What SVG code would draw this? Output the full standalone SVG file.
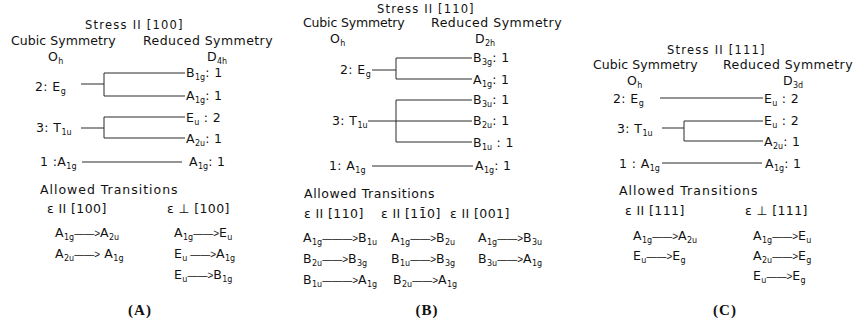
<svg xmlns="http://www.w3.org/2000/svg" width="854" height="329" viewBox="0 0 854 329">
<style>
text{font-family:"DejaVu Sans","Liberation Sans",sans-serif;font-size:12.5px;fill:#111;letter-spacing:0.4px}
.h{font-size:11.5px}
.s{font-size:8px;letter-spacing:0}
.ar{font-family:"Liberation Sans",sans-serif;font-size:10px;letter-spacing:0}
.cap{font-family:"Liberation Serif",serif;font-weight:bold;font-size:15px;letter-spacing:1px;text-anchor:middle}
.ln{stroke:#2a2a2a;stroke-width:1;fill:none}
</style>
<rect width="854" height="329" fill="#fff"/>

<!-- Panel A -->
<g id="panelA">
<text class="h" x="85" y="29" textLength="98">Stress II [100]</text>
<text x="11" y="45" textLength="105">Cubic Symmetry</text>
<text x="143" y="45" textLength="130">Reduced Symmetry</text>
<g id="a-oh"><text x="48" y="61">O<tspan class="s" dy="3">h</tspan></text></g>
<g id="a-d4h"><text x="207" y="61">D<tspan class="s" dy="3">4h</tspan></text></g>
<g id="a-eg"><text x="35" y="91">2: E<tspan class="s" dy="3">g</tspan></text></g>
<g id="a-t1u"><text x="36" y="132">3: T<tspan class="s" dy="3">1u</tspan></text></g>
<g id="a-a1g"><text x="40" y="166">1 :A<tspan class="s" dy="3">1g</tspan></text></g>
<g id="a-b1g"><text x="186" y="77">B<tspan class="s" dy="3">1g</tspan><tspan dy="-3">: 1</tspan></text></g>
<g id="a-a1g2"><text x="186" y="100">A<tspan class="s" dy="3">1g</tspan><tspan dy="-3">: 1</tspan></text></g>
<g id="a-eu"><text x="186" y="122">E<tspan class="s" dy="3">u</tspan><tspan dy="-3"> : 2</tspan></text></g>
<g id="a-a2u"><text x="186" y="143">A<tspan class="s" dy="3">2u</tspan><tspan dy="-3">: 1</tspan></text></g>
<g id="a-a1g3"><text x="189" y="166">A<tspan class="s" dy="3">1g</tspan><tspan dy="-3">: 1</tspan></text></g>
<text x="40" y="194" textLength="138">Allowed Transitions</text>
<text x="47" y="213">ε II [100]</text>
<text x="167" y="213">ε ⊥ [100]</text>
<text x="55" y="237">A<tspan class="s" dy="3">1g</tspan><tspan class="ar" dy="-3">——&gt;</tspan>A<tspan class="s" dy="3">2u</tspan></text>
<text x="55" y="258">A<tspan class="s" dy="3">2u</tspan><tspan class="ar" dy="-3">——&gt;</tspan> A<tspan class="s" dy="3">1g</tspan></text>
<text x="174" y="237">A<tspan class="s" dy="3">1g</tspan><tspan class="ar" dy="-3">——&gt;</tspan>E<tspan class="s" dy="3">u</tspan></text>
<text x="174" y="258">E<tspan class="s" dy="3">u</tspan><tspan class="ar" dy="-3"> ——&gt;</tspan>A<tspan class="s" dy="3">1g</tspan></text>
<text x="174" y="279">E<tspan class="s" dy="3">u</tspan><tspan class="ar" dy="-3">——&gt;</tspan>B<tspan class="s" dy="3">1g</tspan></text>
<text class="cap" x="140" y="315">(A)</text>
</g>

<!-- Panel B -->
<g id="panelB">
<text class="h" x="377" y="13" textLength="97">Stress II [110]</text>
<text x="303" y="27" textLength="102">Cubic Symmetry</text>
<text x="431" y="27" textLength="131">Reduced Symmetry</text>
<g id="b-oh"><text x="330" y="43">O<tspan class="s" dy="3">h</tspan></text></g>
<g id="b-d2h"><text x="475" y="43">D<tspan class="s" dy="3">2h</tspan></text></g>
<g id="b-eg"><text x="340" y="74">2: E<tspan class="s" dy="3">g</tspan></text></g>
<g id="b-t1u"><text x="332" y="125">3: T<tspan class="s" dy="3">1u</tspan></text></g>
<g id="b-a1g"><text x="329" y="170">1: A<tspan class="s" dy="3">1g</tspan></text></g>
<g id="b-b3g"><text x="473" y="62">B<tspan class="s" dy="3">3g</tspan><tspan dy="-3">: 1</tspan></text></g>
<g id="b-a1g2"><text x="473" y="84">A<tspan class="s" dy="3">1g</tspan><tspan dy="-3">: 1</tspan></text></g>
<g id="b-b3u"><text x="473" y="104">B<tspan class="s" dy="3">3u</tspan><tspan dy="-3">: 1</tspan></text></g>
<g id="b-b2u"><text x="473" y="125">B<tspan class="s" dy="3">2u</tspan><tspan dy="-3">: 1</tspan></text></g>
<g id="b-b1u"><text x="473" y="147">B<tspan class="s" dy="3">1u</tspan><tspan dy="-3"> : 1</tspan></text></g>
<g id="b-a1g3"><text x="475" y="170">A<tspan class="s" dy="3">1g</tspan><tspan dy="-3">: 1</tspan></text></g>
<text x="304" y="198" textLength="131">Allowed Transitions</text>
<text x="304" y="218">ε II [110]</text>
<text x="381" y="218">ε II [11̄0]</text>
<text x="450" y="218">ε II [001]</text>
<text x="303" y="242">A<tspan class="s" dy="3">1g</tspan><tspan class="ar" dy="-3">———&gt;</tspan>B<tspan class="s" dy="3">1u</tspan></text>
<text x="303" y="263">B<tspan class="s" dy="3">2u</tspan><tspan class="ar" dy="-3">——&gt;</tspan>B<tspan class="s" dy="3">3g</tspan></text>
<text x="303" y="284">B<tspan class="s" dy="3">1u</tspan><tspan class="ar" dy="-3">———&gt;</tspan>A<tspan class="s" dy="3">1g</tspan></text>
<text x="391" y="242">A<tspan class="s" dy="3">1g</tspan><tspan class="ar" dy="-3">——&gt;</tspan>B<tspan class="s" dy="3">2u</tspan></text>
<text x="391" y="263">B<tspan class="s" dy="3">1u</tspan><tspan class="ar" dy="-3">——&gt;</tspan>B<tspan class="s" dy="3">3g</tspan></text>
<text x="393" y="284">B<tspan class="s" dy="3">2u</tspan><tspan class="ar" dy="-3">——&gt;</tspan>A<tspan class="s" dy="3">1g</tspan></text>
<text x="478" y="242">A<tspan class="s" dy="3">1g</tspan><tspan class="ar" dy="-3">——&gt;</tspan>B<tspan class="s" dy="3">3u</tspan></text>
<text x="478" y="263">B<tspan class="s" dy="3">3u</tspan><tspan class="ar" dy="-3">——&gt;</tspan>A<tspan class="s" dy="3">1g</tspan></text>
<text class="cap" x="427" y="315">(B)</text>
</g>

<!-- Panel C -->
<g id="panelC">
<text class="h" x="667" y="54" textLength="98">Stress II [111]</text>
<text x="593" y="69" textLength="105">Cubic Symmetry</text>
<text x="723" y="69" textLength="130">Reduced Symmetry</text>
<g id="c-oh"><text x="627" y="85">O<tspan class="s" dy="3">h</tspan></text></g>
<g id="c-d3d"><text x="783" y="85">D<tspan class="s" dy="3">3d</tspan></text></g>
<g id="c-eg"><text x="613" y="103">2: E<tspan class="s" dy="3">g</tspan></text></g>
<g id="c-t1u"><text x="617" y="133">3: T<tspan class="s" dy="3">1u</tspan></text></g>
<g id="c-a1g"><text x="619" y="168">1 : A<tspan class="s" dy="3">1g</tspan></text></g>
<g id="c-eu1"><text x="764" y="103">E<tspan class="s" dy="3">u</tspan><tspan dy="-3"> : 2</tspan></text></g>
<g id="c-eu2"><text x="764" y="125">E<tspan class="s" dy="3">u</tspan><tspan dy="-3"> : 2</tspan></text></g>
<g id="c-a2u"><text x="764" y="146">A<tspan class="s" dy="3">2u</tspan><tspan dy="-3">: 1</tspan></text></g>
<g id="c-a1g2"><text x="765" y="168">A<tspan class="s" dy="3">1g</tspan><tspan dy="-3">: 1</tspan></text></g>
<text x="619" y="195" textLength="139">Allowed Transitions</text>
<text x="625" y="215">ε II [111]</text>
<text x="745" y="215">ε ⊥ [111]</text>
<text x="633" y="240">A<tspan class="s" dy="3">1g</tspan><tspan class="ar" dy="-3">——&gt;</tspan>A<tspan class="s" dy="3">2u</tspan></text>
<text x="633" y="260">E<tspan class="s" dy="3">u</tspan><tspan class="ar" dy="-3">——&gt;</tspan>E<tspan class="s" dy="3">g</tspan></text>
<text x="753" y="240">A<tspan class="s" dy="3">1g</tspan><tspan class="ar" dy="-3">——&gt;</tspan>E<tspan class="s" dy="3">u</tspan></text>
<text x="753" y="260">A<tspan class="s" dy="3">2u</tspan><tspan class="ar" dy="-3">——&gt;</tspan>E<tspan class="s" dy="3">g</tspan></text>
<text x="753" y="280">E<tspan class="s" dy="3">u</tspan><tspan class="ar" dy="-3">——&gt;</tspan>E<tspan class="s" dy="3">g</tspan></text>
<text class="cap" x="725" y="315">(C)</text>
</g>

<g id="connectors" class="ln">
<path d="M81,84H104M104,73V96M104,73H185M104,96H185"/>
<path d="M81,128H104M104,117V138M104,117H185M104,138H185"/>
<path d="M82,162H182"/>
<path d="M372,70H396M396,58V79M396,58H472M396,79H472"/>
<path d="M368,121H472M396,100V142M396,100H472M396,142H472"/>
<path d="M372,166H473"/>
<path d="M660,98H763"/>
<path d="M662,128H684M684,121V141M684,121H763M684,141H763"/>
<path d="M662,163H762"/>
</g>
</svg>
